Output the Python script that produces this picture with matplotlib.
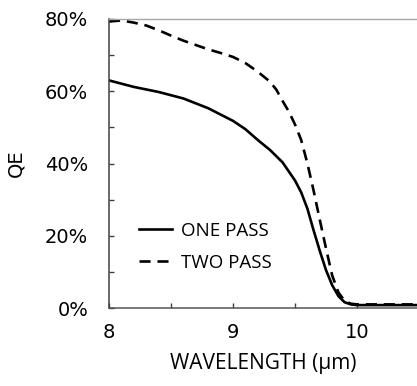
import matplotlib
matplotlib.use("Agg")
import matplotlib.pyplot as plt
from matplotlib.ticker import MultipleLocator, PercentFormatter

# Data (wavelength in um, QE in %)
wl_one = [8.0, 8.2, 8.4, 8.6, 8.8, 9.0, 9.1, 9.2, 9.3, 9.4, 9.5, 9.55, 9.6,
          9.65, 9.7, 9.75, 9.8, 9.85, 9.9, 9.95, 10.0, 10.2, 10.5]
qe_one = [63.0, 61.2, 59.8, 58.0, 55.3, 51.8, 49.5, 46.5, 43.7, 40.3, 35.3, 32.0, 27.5,
          21.5, 15.8, 10.5, 6.3, 3.3, 1.6, 1.0, 0.8, 0.8, 0.8]

wl_two = [8.0, 8.1, 8.2, 8.3, 8.4, 8.5, 8.6, 8.7, 8.8, 8.9, 9.0, 9.1, 9.2, 9.3,
          9.35, 9.4, 9.45, 9.5, 9.55, 9.6, 9.65, 9.7, 9.75, 9.8, 9.85, 9.9,
          9.95, 10.0, 10.2, 10.5]
qe_two = [79.3, 79.6, 79.0, 78.2, 76.9, 75.4, 74.0, 72.8, 71.6, 70.6, 69.5, 67.8, 65.4, 62.6,
          60.4, 57.3, 54.4, 50.8, 46.5, 40.0, 32.5, 24.4, 16.5, 9.0, 4.3, 2.0,
          1.2, 1.0, 1.0, 1.0]

labels = ["ONE PASS", "TWO PASS"]
x_ticks = [8, 9, 10]

W, H = 417, 386
fig = plt.figure(figsize=(W / 100, H / 100), dpi=100)
ax_left, ax_bottom, ax_top = 109, 308, 19
ax = fig.add_axes([ax_left / W, (H - ax_bottom) / H, (W - ax_left) / W, (ax_bottom - ax_top) / H])

ax.plot(wl_one, qe_one, color="black", lw=1.9, label=labels[0])
ax.plot(wl_two, qe_two, color="black", lw=1.9, ls=(0, (4.2, 2.6)), label=labels[1])

ax.set_xlim(8, 8 + (W - ax_left) / 124.0)
ax.set_ylim(0, 80)
ax.set_xticks(x_ticks)
ax.xaxis.set_minor_locator(MultipleLocator(0.5))
ax.yaxis.set_major_locator(MultipleLocator(20))
ax.yaxis.set_minor_locator(MultipleLocator(10))
ax.yaxis.set_major_formatter(PercentFormatter(decimals=0))

ax.spines["right"].set_visible(False)
ax.spines["left"].set_color("#404040")
ax.spines["left"].set_linewidth(1.1)
ax.spines["bottom"].set_color("#555555")
ax.spines["bottom"].set_linewidth(1.1)
ax.spines["top"].set_color("#a6a6a6")
ax.spines["top"].set_linewidth(1.0)

ax.tick_params(which="both", direction="in", length=3.8, width=1.0, color="#404040",
               labelsize=14, labelcolor="black")
ax.tick_params(axis="y", which="both", pad=15)
ax.tick_params(axis="x", which="both", pad=11)
ax.tick_params(which="both", top=False, right=False)
for lab in ax.get_xticklabels() + ax.get_yticklabels():
    lab.set_fontfamily("DejaVu Sans")

ax.set_xlabel("WAVELENGTH (μm)", fontsize=15, family=["Open Sans", "DejaVu Sans"], labelpad=8)
ax.set_ylabel("QE", fontsize=14, family="DejaVu Sans", labelpad=14)

leg = ax.legend(loc="upper left", bbox_to_anchor=(30 / (W - ax_left), (ax_bottom - 222) / (ax_bottom - ax_top)),
                frameon=False, borderpad=0, borderaxespad=0, handlelength=1.75, handletextpad=0.5,
                labelspacing=0.72, prop={"family": "Open Sans", "size": 13.5})

fig.savefig("out.png", dpi=100)
